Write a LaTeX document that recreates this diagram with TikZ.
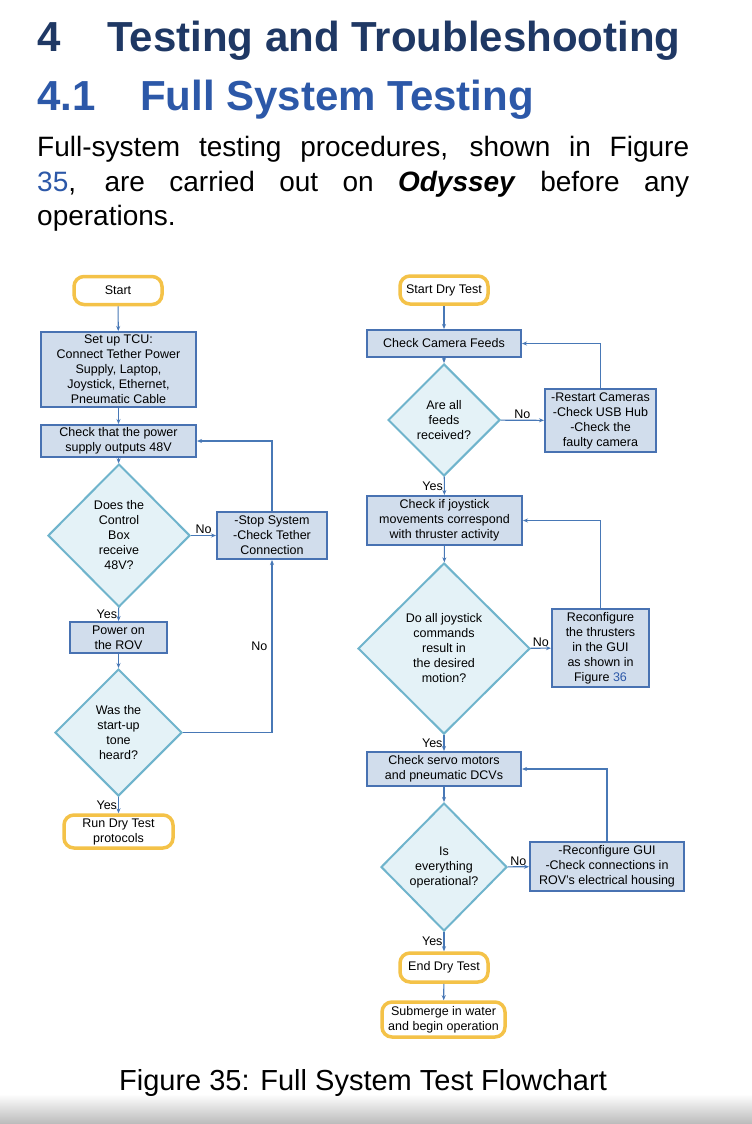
\documentclass[tikz,border=0pt]{standalone}
\usepackage{fontspec}
\setmainfont{Liberation Sans}
\usetikzlibrary{arrows.meta, positioning, shapes.geometric}
\definecolor{headnavy}{RGB}{31,56,100}
\definecolor{headblue}{RGB}{44,88,168}
\definecolor{linkblue}{RGB}{44,88,168}
\definecolor{termgold}{RGB}{244,194,72}
\definecolor{boxfill}{RGB}{209,221,236}
\definecolor{boxline}{RGB}{72,114,178}
\definecolor{decfill}{RGB}{228,242,247}
\definecolor{decline}{RGB}{111,180,204}
\definecolor{flowline}{RGB}{72,120,182}

\begin{document}
\begin{tikzpicture}[x=1pt, y=-1pt, >={Stealth[length=5pt,width=4pt]},
    font=\fontsize{12.5}{15}\selectfont,
    terminal/.style={draw=termgold, line width=3.5pt, fill=white, rounded corners=10pt, align=center, inner sep=1pt},
    procbox/.style={draw=boxline, line width=2pt, fill=boxfill, align=center, inner sep=1pt},
    decision/.style={diamond, draw=decline, line width=2pt, fill=decfill, align=center, inner sep=0pt},
    flow/.style={->, draw=flowline, line width=1.1pt},
    yes/.style={left, inner sep=1pt},
    no/.style={above, inner sep=1pt}]
    \useasboundingbox (0,0) rectangle (752,1124);
    \fill[white] (0,0) rectangle (752,1124);
    \shade[top color=white, bottom color=black!27] (0,1094) rectangle (752,1124);

    % Headings and text above the chart
    \node[anchor=base west, inner sep=0, text=headnavy, font=\fontsize{42}{50}\bfseries\selectfont] (chap) at (37,52) {\makebox[70pt][l]{4}Testing and Troubleshooting};
    \node[anchor=base west, inner sep=0, text=headblue, font=\fontsize{42}{50}\bfseries\selectfont] (sec) at (37,110) {\makebox[103pt][l]{4.1}Full System Testing};
    \node[anchor=base west, inner sep=0, font=\fontsize{28}{35}\selectfont] (para1) at (37,156) {\makebox[652pt][s]{Full-system testing procedures, shown in Figure}};
    \node[anchor=base west, inner sep=0, font=\fontsize{28}{35}\selectfont] (para2) at (37,191) {\makebox[652pt][s]{{\color{linkblue}35}, are carried out on \textbf{\textit{Odyssey}} before any}};
    \node[anchor=base west, inner sep=0, font=\fontsize{28}{35}\selectfont] (para3) at (37,225) {operations.};

    % Left column
    \node[terminal, minimum width=88pt, minimum height=28pt] (start) at (118,290.5) {Start};
    \node[procbox, minimum width=155pt, minimum height=75pt] (setup) at (118.5,369.5) {Set up TCU:\\Connect Tether Power\\Supply, Laptop,\\Joystick, Ethernet,\\Pneumatic Cable};
    \node[procbox, minimum width=155pt, minimum height=32pt] (power) at (118.5,441) {Check that the power\\supply outputs 48V};
    \node[decision, minimum width=142pt, minimum height=143pt] (box48) at (119,535.5) {Does the\\Control\\Box\\receive\\48V?};
    \node[procbox, minimum width=97pt, minimum height=31pt] (rovon) at (118.5,637.5) {Power on\\the ROV};
    \node[decision, minimum width=127pt, minimum height=127pt] (tone) at (118.5,732.5) {Was the\\start-up\\tone\\heard?};
    \node[terminal, minimum width=109pt, minimum height=33pt] (rundry) at (118.5,831.5) {Run Dry Test\\protocols};
    \node[procbox, minimum width=110pt, minimum height=47pt] (stop) at (272,535.5) {-Stop System\\-Check Tether\\Connection};

    % Right column
    \node[terminal, minimum width=88pt, minimum height=28pt] (startdry) at (444,290) {Start Dry Test};
    \node[procbox, minimum width=154pt, minimum height=27pt] (camera) at (444,343.5) {Check Camera Feeds};
    \node[decision, minimum width=112pt, minimum height=112pt] (feeds) at (444,420) {Are all\\feeds\\received?};
    \node[procbox, minimum width=111pt, minimum height=63pt] (restart) at (600.5,420.5) {-Restart Cameras\\-Check USB Hub\\-Check the\\faulty camera};
    \node[procbox, minimum width=155pt, minimum height=49pt] (joystick) at (444.5,520.5) {Check if joystick\\movements correspond\\with thruster activity};
    \node[decision, minimum width=172pt, minimum height=171pt] (motion) at (444,648.5) {Do all joystick\\commands\\result in\\the desired\\motion?};
    \node[procbox, minimum width=97pt, minimum height=78pt] (thrust) at (600.5,648) {Reconfigure\\the thrusters\\in the GUI\\as shown in\\Figure {\color{linkblue}36}};
    \node[procbox, minimum width=154pt, minimum height=34pt] (servo) at (444,769) {Check servo motors\\and pneumatic DCVs};
    \node[decision, minimum width=126pt, minimum height=128pt] (oper) at (444,867) {Is\\everything\\operational?};
    \node[procbox, minimum width=154pt, minimum height=49pt] (gui) at (607,866.5) {-Reconfigure GUI\\-Check connections in\\ROV’s electrical housing};
    \node[terminal, minimum width=88pt, minimum height=29pt] (enddry) at (444,967.5) {End Dry Test};
    \node[terminal, minimum width=123pt, minimum height=35pt] (submerge) at (443.5,1019.5) {Submerge in water\\and begin operation};

    % Connectors, left
    \draw[flow] (start) -- (setup);
    \draw[flow] (setup) -- (power);
    \draw[flow] (power) -- (box48);
    \draw[flow] (box48) -- node[yes] {Yes} (rovon);
    \draw[flow] (box48) -- node[no] {No} (stop);
    \draw[flow] (rovon) -- (tone);
    \draw[flow] (tone) -- node[yes] {Yes} (rundry);
    \draw[flow] (tone.east) -| node[pos=0.75, left, inner sep=4pt] {No} (stop.south);
    \draw[flow] (stop.north) |- (power.east);

    % Connectors, right
    \draw[flow] (startdry) -- (camera);
    \draw[flow] (camera) -- (feeds);
    \draw[flow] (feeds) -- node[no] {No} (restart);
    \draw[flow] (restart.north) |- (camera.east);
    \draw[flow] (feeds) -- node[yes] {Yes} (joystick);
    \draw[flow] (joystick) -- (motion);
    \draw[flow] (motion) -- node[no] {No} (thrust);
    \draw[flow] (thrust.north) |- (joystick.east);
    \draw[flow] (motion) -- node[yes] {Yes} (servo);
    \draw[flow] (servo) -- (oper);
    \draw[flow] (oper) -- node[no] {No} (gui);
    \draw[flow] (gui.north) |- (servo.east);
    \draw[flow] (oper) -- node[yes] {Yes} (enddry);
    \draw[flow] (enddry) -- (submerge);

    % Caption
    \node[anchor=base, inner sep=0, font=\fontsize{29}{34}\selectfont] (caption) at (363,1090) {Figure 35: Full System Test Flowchart};
\end{tikzpicture}
\end{document}
